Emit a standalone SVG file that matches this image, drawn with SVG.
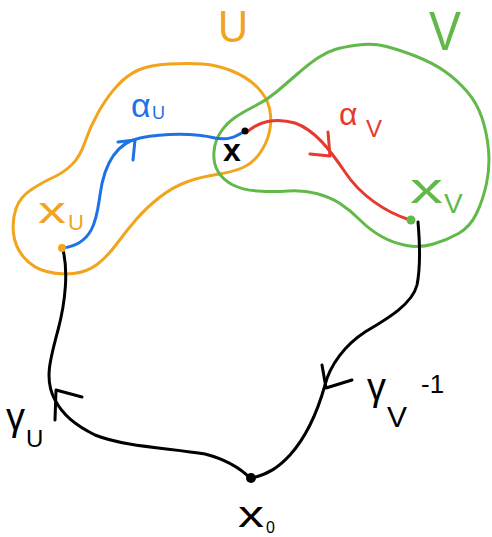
<svg xmlns="http://www.w3.org/2000/svg" width="492" height="537" viewBox="0 0 492 537">
<style>
.s{fill:none;stroke-width:3;stroke-linecap:round;stroke-linejoin:round}
.or{stroke:#F2A51C}.gr{stroke:#62B94A}.bl{stroke:#1F72E6}.rd{stroke:#E63A2E}.k{stroke:#000}
text{font-family:"Liberation Sans","DejaVu Sans",sans-serif}
.to{fill:#F2A51C}.tg{fill:#62B94A}.tb{fill:#1F72E6}.tr{fill:#E63A2E}.tk{fill:#000}
</style>
<rect width="492" height="537" fill="#fff"/>
<g id="setU">
<path class="s or" d="M 169,64 Q 188,63 202.5,64 Q 217,65 232,71 Q 247,77 257,87 Q 267,97 269.5,108.5 Q 272,120 269.5,131.5 Q 267,143 260,153 Q 253,163 243,167.5 Q 233,172 216.5,174.5 Q 200,177 186.5,182 Q 173,187 160,197 Q 147,207 137,218.5 Q 127,230 117,243.5 Q 107,257 97,264.5 Q 87,272 73.5,273.5 Q 60,275 46.5,271.5 Q 33,268 24,257.5 Q 15,247 13.5,233.5 Q 12,220 16,208.5 Q 20,197 31.5,189.5 Q 43,182 53,177.5 Q 63,173 71.5,165 Q 80,157 85,142 Q 90,127 98.5,112 Q 107,97 117,86 Q 127,75 138.5,70 Q 150,65 169,64 Z"/>
<text class="to" x="218" y="42" font-size="44" textLength="30" lengthAdjust="spacingAndGlyphs">U</text>
</g>
<g id="setV">
<path class="s gr" d="M 358,45 Q 373,43 386.5,46.5 Q 400,50 416.5,56.5 Q 433,63 445,71.5 Q 457,80 467,91.5 Q 477,103 482,118 Q 487,133 488.5,150 Q 490,167 486.5,183.5 Q 483,200 476.5,213.5 Q 470,227 458.5,233.5 Q 447,240 433.5,244 Q 420,248 406.5,245.5 Q 393,243 381.5,236.5 Q 370,230 360,220 Q 350,210 340,203.5 Q 330,197 316.5,193.5 Q 303,190 288,191 Q 273,192 258,191 Q 243,190 233,185 Q 223,180 218,171.5 Q 213,163 214,151.5 Q 215,140 221,131.5 Q 227,123 235,117.5 Q 243,112 255,106 Q 267,100 277,91.5 Q 287,83 298.5,73 Q 310,63 318.5,57.5 Q 327,52 335,49.5 Q 343,47 358,45 Z"/>
<text class="tg" x="429" y="50" font-size="56" textLength="32" lengthAdjust="spacingAndGlyphs">V</text>
</g>
<g id="connectors">
<path class="s bl" d="M 62,248 C 95,245 97,215 100,195 C 104,165 115,143 140,138 C 165,133 195,133 215,138 C 230,141 238,135 245,131"/>
<polyline class="s bl" points="118,142 135,140 133,160"/>
<path class="s rd" d="M 247,132 C 258,122 275,117 295,123 C 315,130 330,150 345,172 C 360,195 385,212 410,220"/>
<polyline class="s rd" points="310,154 330,156 328,132"/>
<path class="s k" d="M 63,250 C 68,270 66,300 58,330 C 50,360 44,380 55,400 C 63,415 75,425 95,435 C 125,447 170,448 205,454 C 228,460 240,468 250,478"/>
<polyline class="s k" points="55,420 56,390 82,397"/>
<path class="s k" d="M 418,222 C 420,245 420,270 417,285 C 412,305 385,320 365,332 C 345,345 330,365 325,385 C 318,410 308,435 290,455 C 278,468 268,474 252,478"/>
<polyline class="s k" points="322,365 326,388 352,380"/>
</g>
<g id="xU">
<circle cx="62" cy="248" r="4" fill="#F2A51C"/>
<text class="to" x="38" y="223" font-size="36" textLength="28" lengthAdjust="spacingAndGlyphs">x</text>
<text class="to" x="68" y="230" font-size="22">U</text>
</g>
<g id="x">
<circle cx="245" cy="131" r="3.5" fill="#000"/>
<text class="tk" x="223" y="161" font-size="32" font-weight="bold">x</text>
</g>
<g id="xV">
<circle cx="411" cy="220" r="4.5" fill="#62B94A"/>
<text class="tg" x="410" y="203" font-size="42" textLength="33" lengthAdjust="spacingAndGlyphs">x</text>
<text class="tg" x="444" y="213" font-size="28">V</text>
</g>
<g id="x0">
<circle cx="251" cy="478" r="5" fill="#000"/>
<text class="tk" x="238" y="527" font-size="36" textLength="26" lengthAdjust="spacingAndGlyphs">x</text>
<text class="tk" x="266" y="533" font-size="16">0</text>
</g>
<g id="labels">
<text class="tb" x="131" y="117" font-size="34">α</text>
<text class="tb" x="152" y="119" font-size="18">U</text>
<text class="tr" x="339" y="125" font-size="32">α</text>
<text class="tr" x="366" y="137" font-size="24">V</text>
<text class="tk" x="6" y="430" font-size="38">γ</text>
<text class="tk" x="26" y="447" font-size="24">U</text>
<text class="tk" x="367" y="400" font-size="38">γ</text>
<text class="tk" x="387" y="427" font-size="30">V</text>
<text class="tk" x="421" y="393" font-size="26">-1</text>
</g>
</svg>
